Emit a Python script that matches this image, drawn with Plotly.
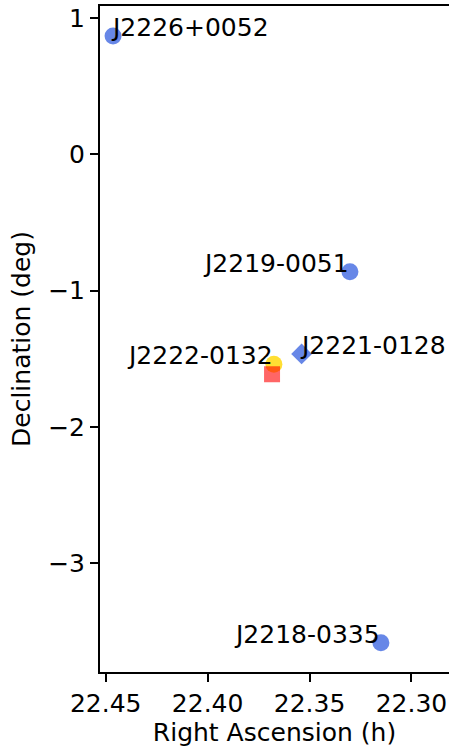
import plotly.graph_objects as go

# Data
names_blue = ["J2226+0052", "J2219-0051", "J2218-0335"]
ra_blue = [22.4464, 22.3302, 22.3150]
dec_blue = [0.869, -0.861, -3.583]

name_diamond = "J2221-0128"
ra_diamond = [22.3539]
dec_diamond = [-1.464]

name_yellow = "J2222-0132"
ra_yellow = [22.3675]
dec_yellow = [-1.540]

ra_square = [22.3684]
dec_square = [-1.613]

# label alignment: "left" means text starts at point, "right" means text ends at point
label_names = ["J2226+0052", "J2219-0051", "J2218-0335", "J2221-0128", "J2222-0132"]
label_ra = [ra_blue[0], ra_blue[1], ra_blue[2], ra_diamond[0], ra_yellow[0]]
label_dec = [dec_blue[0], dec_blue[1], dec_blue[2], dec_diamond[0], dec_yellow[0]]
label_align = ["left", "right", "right", "left", "right"]

FONT = "DejaVu Sans"
FS = 25

fig = go.Figure()
fig.add_trace(go.Scatter(x=ra_blue, y=dec_blue, mode="markers",
                         marker=dict(symbol="circle", size=17, color="rgba(65,105,225,0.8)", line=dict(width=0)),
                         showlegend=False))
fig.add_trace(go.Scatter(x=ra_yellow, y=dec_yellow, mode="markers",
                         marker=dict(symbol="circle", size=17, color="rgba(255,215,0,0.8)", line=dict(width=0)),
                         showlegend=False))
fig.add_trace(go.Scatter(x=ra_square, y=dec_square, mode="markers",
                         marker=dict(symbol="square", size=16, color="rgba(255,0,0,0.6)", line=dict(width=0)),
                         showlegend=False))
fig.add_trace(go.Scatter(x=ra_diamond, y=dec_diamond, mode="markers",
                         marker=dict(symbol="diamond", size=16, color="rgba(65,105,225,0.8)", line=dict(width=0)),
                         showlegend=False))

for n, x, y, a in zip(label_names, label_ra, label_dec, label_align):
    fig.add_annotation(x=x, y=y, text=n, showarrow=False,
                       xanchor=a, yanchor="bottom",
                       xshift=(-4 if a == "left" else 1), yshift=-8,
                       font=dict(family=FONT, size=FS, color="black"))

fig.update_layout(
    width=449, height=749,
    margin=dict(l=100, r=0, t=6, b=77),
    paper_bgcolor="white", plot_bgcolor="white",
    font=dict(family=FONT, size=FS, color="black"),
)
fig.update_xaxes(range=[22.4528, 22.2816], tickvals=[22.45, 22.40, 22.35, 22.30],
                 ticktext=["22.45", "22.40", "22.35", "22.30"],
                 showgrid=False, zeroline=False, showline=True, linecolor="black", linewidth=2,
                 mirror=True, ticks="outside", ticklen=8, tickwidth=2, tickcolor="black",
                 title=dict(text="Right Ascension (h)", font=dict(family=FONT, size=FS), standoff=6),
                 tickfont=dict(family=FONT, size=FS))
fig.update_yaxes(range=[-3.7975, 1.0888], tickvals=[1, 0, -1, -2, -3],
                 showgrid=False, zeroline=False, showline=True, linecolor="black", linewidth=2,
                 mirror=False, ticks="outside", ticklen=8, tickwidth=2, tickcolor="black",
                 title=dict(text="Declination (deg)", font=dict(family=FONT, size=FS), standoff=10),
                 tickfont=dict(family=FONT, size=FS))

fig.write_html("out.html")
